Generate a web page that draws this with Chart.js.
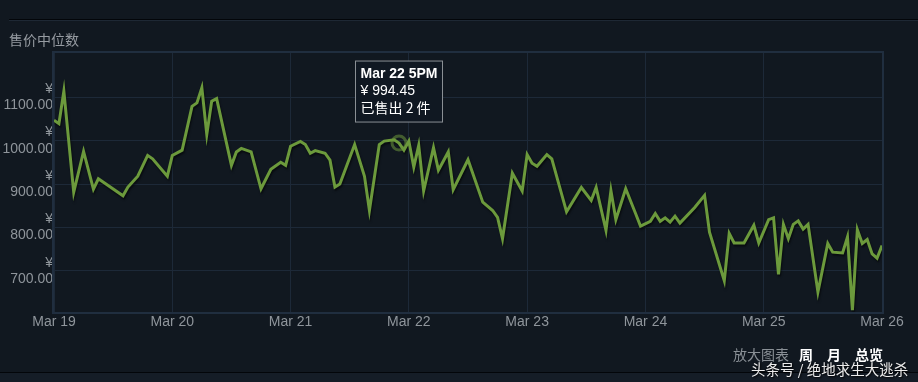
<!DOCTYPE html>
<html><head><meta charset="utf-8">
<script src="https://cdn.jsdelivr.net/npm/chart.js@4.4.0/dist/chart.umd.min.js"></script>
<style>
html,body{margin:0;padding:0;background:#111820;}
#wrap{position:relative;width:918px;height:382px;overflow:hidden;background:#111820;font-family:"Liberation Sans",Arial,sans-serif;}
#c{position:absolute;left:0;top:0;}
.l1{position:absolute;left:9px;right:0;top:19px;height:1px;background:#03060a;}
.l2{position:absolute;left:9px;right:0;top:20px;height:1px;background:#1e2834;}
.title{position:absolute;left:9px;top:30px;font-size:14px;line-height:18px;color:#969ba1;font-family:"Noto Sans CJK SC",sans-serif;}
.zoom{position:absolute;top:345px;font-size:14px;line-height:18px;font-family:"Noto Sans CJK SC",sans-serif;}
.g{color:#8a9096;}
.w{color:#ffffff;font-weight:bold;}
.b1{position:absolute;left:0;right:0;top:372px;height:1px;background:#03060a;}
.b2{position:absolute;left:0;right:0;top:373px;height:9px;background:#151d27;}
.wm{position:absolute;left:751px;top:359px;font-size:14.5px;line-height:20px;color:#ececec;font-family:"Noto Sans CJK SC",sans-serif;text-shadow:1px 1px 2px #000;}
</style></head>
<body>
<div id="wrap">
<canvas id="c" width="918" height="382"></canvas>
<div class="l1"></div><div class="l2"></div>
<div class="title">售价中位数</div>
<div class="b1"></div><div class="b2"></div>
<div class="zoom g" style="left:733px">放大图表</div>
<div class="zoom w" style="left:799px">周</div>
<div class="zoom w" style="left:827px">月</div>
<div class="zoom w" style="left:855px">总览</div>
<div class="wm">头条号 / 绝地求生大逃杀</div>
</div>
<script>
// hours since Mar 19 00:00
const hours = [0,1,2,4,6,8,9,14,15,17,19,20,23,24,26,28,29,30,31,32,33,36,37,38,40,42,44,46,47,48,50,51,52,53,55,56,57,58,61,63,64,66,67,69,70,71,72,73,74,75,77,78,80,81,84,87,89,90,91,93,95,96,97,98,100,101,104,107,109,110,112,113,114,116,118,119,121,122,123,124,125,126,127,130,132,133,136,137,138,140,142,143,145,146,147,148,149,150,151,152,153,155,157,158,160,161,162,163,164,165,166,167,168];
const prices = [1047,1039,1114,881,975,888,912,873,893,918,966,958,918,966,978,1079,1087,1122,1014,1091,1097,943,974,982,974,889,934,950,943,987,998,991,971,977,971,955,893,900,991,918,839,991,999,1002,994.45,978,999,939,989,884,984,932,974,887,956,858,839,823,774,925,884,968,948,941,968,958,836,892,862,892,793,885,818,889,832,803,814,832,814,822,812,826,810,846,874,789,677,786,764,764,805,764,818,822,692,807,774,807,815,796,807,651,763,743,741,778,609,795,763,772,739,729,758];
const xTickLabels = ['Mar 19','Mar 20','Mar 21','Mar 22','Mar 23','Mar 24','Mar 25','Mar 26'];
const yTickValues = [700,800,900,1000,1100];
const yMin = 605, yMax = 1202;
const highlightHour = 70;
const tooltipTitle = 'Mar 22 5PM';
const tooltipPrice = '¥ 994.45';
const tooltipSold = '已售出 2 件';

const points = hours.map((h,i)=>({x:h,y:prices[i]}));

const decor = {
  id:'decor',
  beforeDraw(chart){
    const {ctx,width,height}=chart;
    ctx.save();ctx.fillStyle='#111820';ctx.fillRect(0,0,width,height);ctx.restore();
  },
  beforeDatasetDraw(chart){
    const ctx=chart.ctx;ctx.save();
    ctx.shadowColor='rgba(0,0,0,0.55)';ctx.shadowOffsetX=1;ctx.shadowOffsetY=2;ctx.shadowBlur=2;
  },
  afterDatasetDraw(chart){chart.ctx.restore();},
  afterDraw(chart){
    const {ctx,chartArea:a,scales}=chart;
    ctx.save();
    ctx.strokeStyle='#202e3f';ctx.lineWidth=2;
    ctx.strokeRect(a.left-1,a.top-1,a.right-a.left+2,a.bottom-a.top+2);
    const i=hours.indexOf(highlightHour);
    const px=scales.x.getPixelForValue(hours[i]);
    const py=scales.y.getPixelForValue(prices[i]);
    ctx.beginPath();ctx.arc(px,py,7,0,Math.PI*2);
    ctx.strokeStyle='rgba(108,150,60,0.55)';ctx.lineWidth=3;ctx.stroke();
    const bx=px-43.5, by=py-82, bw=87, bh=61;
    ctx.fillStyle='#101822';ctx.fillRect(bx,by,bw,bh);
    ctx.strokeStyle='#8a8f94';ctx.lineWidth=1;ctx.strokeRect(bx,by,bw,bh);
    ctx.fillStyle='#ffffff';ctx.textBaseline='middle';ctx.textAlign='left';
    ctx.font='bold 14px "Liberation Sans", Arial';
    ctx.fillText(tooltipTitle,bx+5,by+13);
    ctx.font='14px "Liberation Sans", Arial';
    ctx.fillText(tooltipPrice,bx+5,by+30);
    ctx.font='14px "Noto Sans CJK SC", "Liberation Sans"';
    ctx.fillText(tooltipSold,bx+5,by+47);
    ctx.restore();
  }
};

new Chart(document.getElementById('c'),{
  type:'line',
  data:{datasets:[{data:points,borderColor:'#6c9a3c',borderWidth:3,pointRadius:0,tension:0,fill:false,borderJoinStyle:'miter'}]},
  options:{
    responsive:false,animation:false,
    layout:{padding:{left:0,top:53,right:36,bottom:0}},
    plugins:{legend:{display:false},tooltip:{enabled:false}},
    scales:{
      x:{type:'linear',min:0,max:168,
        afterFit(s){s.height=70;},
        afterBuildTicks(s){s.ticks=xTickLabels.map((_,i)=>({value:i*24}));},
        ticks:{autoSkip:false,maxRotation:0,padding:2,color:'#8f959b',font:{family:'"Liberation Sans", Arial',size:14},
          callback:(v)=>xTickLabels[Math.round(v/24)]},
        grid:{color:'#1d2938',lineWidth:1,drawTicks:false},border:{display:false}},
      y:{min:yMin,max:yMax,
        afterFit(s){s.width=54;},
        afterBuildTicks(s){s.ticks=yTickValues.map(v=>({value:v}));},
        ticks:{padding:1,color:'#8f959b',font:{family:'"Liberation Sans", Arial',size:14,lineHeight:1.15},
          callback:(v)=>['¥',v.toFixed(2)]},
        grid:{color:'#1d2938',lineWidth:1,drawTicks:false},border:{display:false}}
    }
  },
  plugins:[decor]
});
</script>
</body></html>
